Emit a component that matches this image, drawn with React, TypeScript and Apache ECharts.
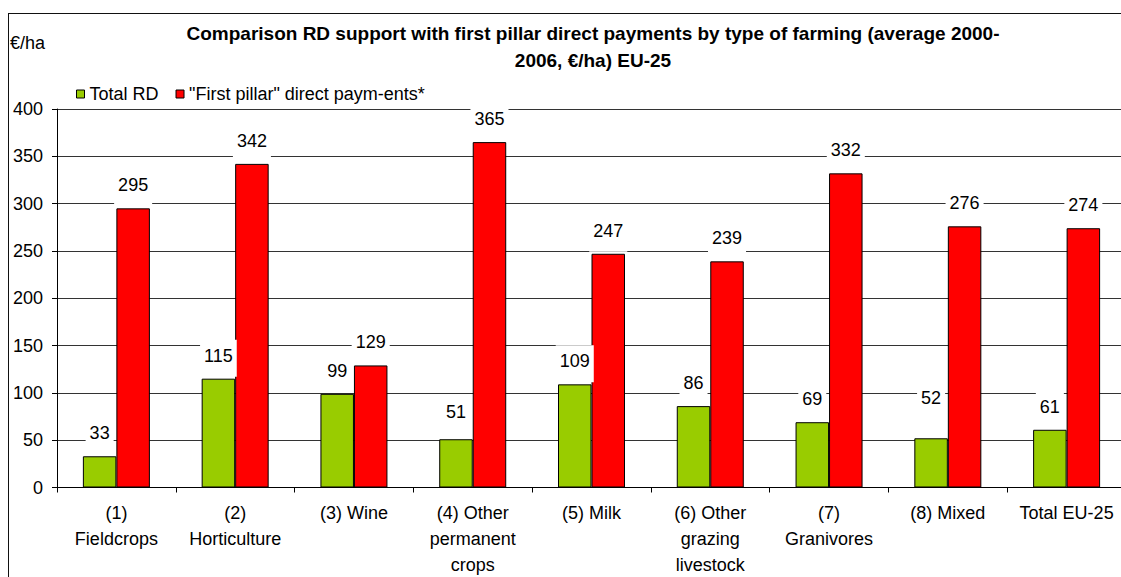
import React, { useEffect, useRef } from "react";
import * as echarts from "echarts";

const categories = [
  "(1)\nFieldcrops",
  "(2)\nHorticulture",
  "(3) Wine",
  "(4) Other\npermanent\ncrops",
  "(5) Milk",
  "(6) Other\ngrazing\nlivestock",
  "(7)\nGranivores",
  "(8) Mixed",
  "Total EU-25",
];
const totalRD = [33, 115, 99, 51, 109, 86, 69, 52, 61];
const firstPillar = [295, 342, 129, 365, 247, 239, 332, 276, 274];
const yTicks = { min: 0, max: 400, interval: 50 };
const seriesNames = ["Total RD", '"First pillar" direct paym-ents*'];
const titleLines = [
  "Comparison RD support with first pillar direct payments by type of farming (average 2000-",
  "2006, \u20AC/ha) EU-25",
];
const unitLabel = "\u20AC/ha";

const FONT = "'Liberation Sans', Arial, sans-serif";

export default function App() {
  const ref = useRef<HTMLDivElement>(null);
  useEffect(() => {
    if (!ref.current) return;
    const chart = echarts.init(ref.current, undefined, { renderer: "svg" });

    const baseLabel = {
      show: true,
      position: "top",
      distance: 2,
      fontSize: 18,
      lineHeight: 18,
      fontFamily: FONT,
      color: "#000",
      backgroundColor: "#fff",
      padding: [7, 4, 12, 4],
    };
    // label tweaks (by index) for the green series
    const rdLabelTweaks: Record<number, any> = {
      3: { distance: 6 },
      7: { distance: 18, padding: [6, 4, 13, 4] },
    };
    const rdData = totalRD.map((v, i) =>
      rdLabelTweaks[i] ? { value: v, label: rdLabelTweaks[i] } : v
    );

    chart.setOption({
      animation: false,
      backgroundColor: "#fff",
      textStyle: { fontFamily: FONT },
      graphic: [
        {
          type: "line",
          shape: { x1: 8, y1: 13.5, x2: 1121, y2: 13.5 },
          style: { stroke: "#111", lineWidth: 1 },
        },
        {
          type: "line",
          shape: { x1: 8.5, y1: 13, x2: 8.5, y2: 577 },
          style: { stroke: "#111", lineWidth: 1 },
        },
        {
          type: "text",
          x: 593,
          y: 20,
          style: {
            text: titleLines.join("\n"),
            align: "center",
            verticalAlign: "top",
            font: `bold 19px ${FONT}`,
            lineHeight: 27,
            fill: "#000",
          },
        },
        {
          type: "text",
          x: 10,
          y: 34,
          style: {
            text: unitLabel,
            align: "left",
            verticalAlign: "top",
            font: `18px ${FONT}`,
            fill: "#000",
          },
        },
      ],
      legend: {
        left: 71,
        top: 80,
        itemWidth: 8,
        itemHeight: 8,
        itemGap: 17,
        icon: "rect",
        itemStyle: { borderColor: "#000", borderWidth: 1 },
        textStyle: { fontSize: 18, fontFamily: FONT, color: "#000" },
        data: seriesNames,
      },
      grid: {
        left: 57,
        top: 109,
        width: 1069,
        height: 378.5,
        containLabel: false,
        outerBoundsMode: "none",
      },
      xAxis: {
        type: "category",
        data: categories,
        axisLine: { show: true, lineStyle: { color: "#000", width: 1 } },
        axisTick: { show: true, length: 5, alignWithLabel: false, lineStyle: { color: "#000" } },
        axisLabel: {
          interval: 0,
          fontSize: 18,
          lineHeight: 26,
          margin: 12,
          color: "#000",
          fontFamily: FONT,
        },
        splitLine: { show: false },
      },
      yAxis: {
        type: "value",
        min: yTicks.min,
        max: yTicks.max,
        interval: yTicks.interval,
        axisLine: { show: true, lineStyle: { color: "#000", width: 1 } },
        axisTick: { show: true, length: 5, lineStyle: { color: "#000" } },
        axisLabel: { fontSize: 18, margin: 14, color: "#000", fontFamily: FONT },
        splitLine: { show: true, lineStyle: { color: "#333", width: 1 } },
      },
      series: [
        {
          name: seriesNames[0],
          type: "bar",
          data: rdData,
          barWidth: 33.5,
          barGap: "0%",
          itemStyle: { color: "#99CC00", borderColor: "#000", borderWidth: 1 },
          label: baseLabel,
        },
        {
          name: seriesNames[1],
          type: "bar",
          data: firstPillar,
          barWidth: 33.5,
          barGap: "0%",
          itemStyle: { color: "#FF0000", borderColor: "#000", borderWidth: 1 },
          label: baseLabel,
        },
      ],
    });
    return () => chart.dispose();
  }, []);
  return (
    <div
      ref={ref}
      style={{ position: "fixed", left: 0, top: 0, width: 1121, height: 577, overflow: "hidden" }}
    />
  );
}
